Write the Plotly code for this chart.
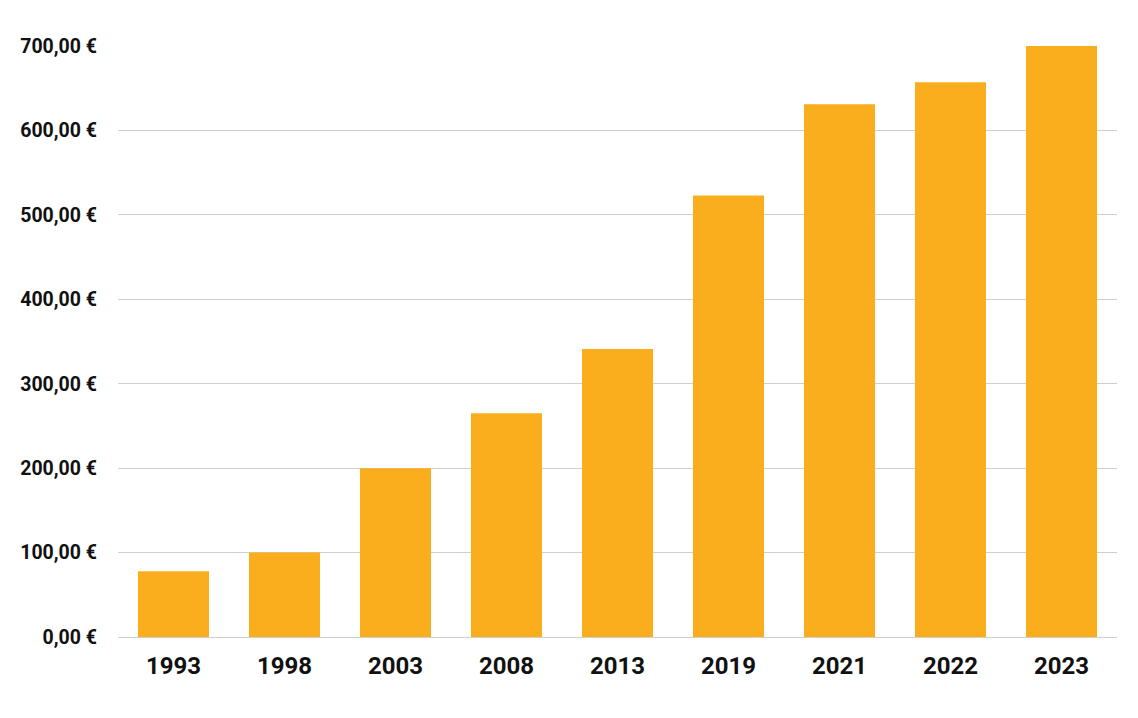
import plotly.graph_objects as go

years = ["1993", "1998", "2003", "2008", "2013", "2019", "2021", "2022", "2023"]
values = [78, 100, 200, 265, 341, 523, 631, 657, 700]
y_ticks = [0, 100, 200, 300, 400, 500, 600, 700]
y_tick_text = [f"{v:.2f}".replace(".", ",") + " €" for v in y_ticks]

fig = go.Figure(go.Bar(
    x=years, y=values,
    marker=dict(color="#FBAE1D", line=dict(width=0)),
    width=0.64,
    hoverinfo="skip",
))

fig.update_layout(
    width=1138, height=718,
    margin=dict(l=118, r=21, t=46, b=81),
    paper_bgcolor="white", plot_bgcolor="white",
    showlegend=False,
    font=dict(family="Roboto", color="#111111"),
)
fig.update_xaxes(
    type="category",
    tickfont=dict(size=24, family="Roboto", weight="bold", color="#111111"),
    ticklabelstandoff=12,
    showgrid=False, showline=False, ticks="",
)
fig.update_yaxes(
    range=[0, 700],
    tickmode="array",
    tickvals=y_ticks,
    ticktext=y_tick_text,
    tickfont=dict(size=19.5, family="Roboto", weight="bold", color="#111111"),
    ticklabelstandoff=20,
    showgrid=True, gridcolor="#cfcfcf", gridwidth=1,
    zeroline=True, zerolinecolor="#cfcfcf", zerolinewidth=1,
    showline=False, ticks="",
)

fig.write_html("out.html")
